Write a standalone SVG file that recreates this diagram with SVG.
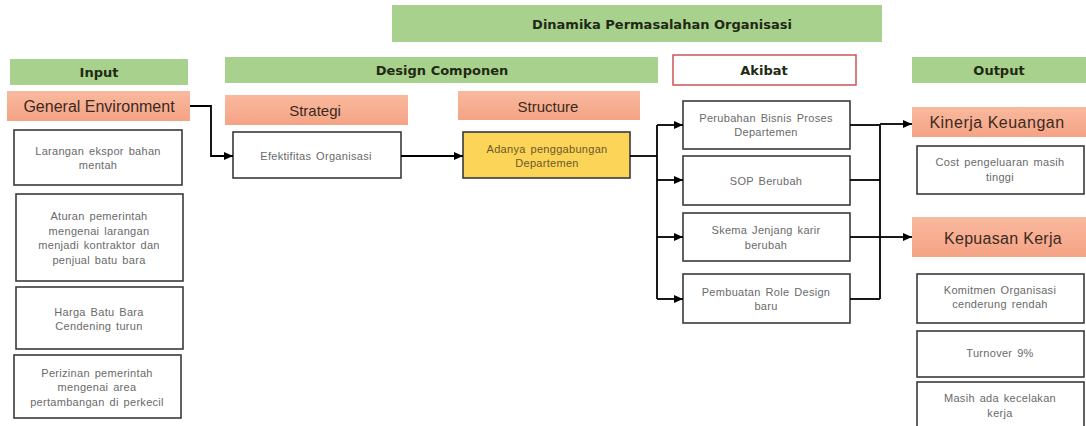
<svg xmlns="http://www.w3.org/2000/svg" width="1086" height="426" viewBox="0 0 1086 426">
<defs>
<marker id="ah" markerUnits="userSpaceOnUse" markerWidth="9" markerHeight="8" refX="9" refY="4" orient="auto">
<path d="M0,0 L9,4 L0,8 Z" fill="#000"/>
</marker>
<linearGradient id="salg" x1="0" y1="0" x2="0" y2="1">
<stop offset="0" stop-color="#F9B99E"/>
<stop offset="1" stop-color="#F5A385"/>
</linearGradient>
<style>
.hdr{fill:#A9D18E}
.sal{fill:url(#salg)}
.box{fill:#fff;stroke:#3a3a3a;stroke-width:1.6}
.ht{font-family:"DejaVu Sans",sans-serif;font-weight:bold;font-size:13px;fill:#1f2a14;text-anchor:middle;dominant-baseline:central}
.st{font-family:"Liberation Sans",Arial,sans-serif;font-size:15px;fill:#3b2a22;text-anchor:middle;dominant-baseline:central}
.bt{font-family:"Liberation Sans",Arial,sans-serif;font-size:11px;fill:#6a6a6a;text-anchor:middle;dominant-baseline:central;letter-spacing:0.3px;word-spacing:1.5px}
.cn{fill:none;stroke:#000;stroke-width:1.8}
</style>
</defs>
<rect width="1086" height="426" fill="#fff"/>

<g id="title"><rect class="hdr" x="392" y="5" width="490" height="37"/><text class="ht" x="662" y="24">Dinamika Permasalahan Organisasi</text></g>

<g id="input-hdr"><rect class="hdr" x="10" y="59" width="178" height="26"/><text class="ht" x="99" y="72">Input</text></g>
<g id="general-env"><rect class="sal" x="7" y="91" width="183" height="30"/><text class="st" x="99" y="106" style="font-size:16px">General Environment</text></g>
<g id="in1"><rect class="box" x="14" y="130" width="168" height="55"/><text class="bt" x="98" y="151">Larangan ekspor bahan</text><text class="bt" x="98" y="165">mentah</text></g>
<g id="in2"><rect class="box" x="16" y="194" width="167" height="87"/><text class="bt" x="99" y="216">Aturan pemerintah</text><text class="bt" x="99" y="231">mengenai larangan</text><text class="bt" x="99" y="245">menjadi kontraktor dan</text><text class="bt" x="99" y="260">penjual batu bara</text></g>
<g id="in3"><rect class="box" x="16" y="287" width="167" height="62"/><text class="bt" x="99" y="312">Harga Batu Bara</text><text class="bt" x="99" y="326">Cendening turun</text></g>
<g id="in4"><rect class="box" x="14" y="355" width="167" height="63"/><text class="bt" x="97" y="373">Perizinan pemerintah</text><text class="bt" x="97" y="387">mengenai area</text><text class="bt" x="97" y="402">pertambangan  di perkecil</text></g>

<g id="design-hdr"><rect class="hdr" x="225" y="57" width="433" height="26"/><text class="ht" x="442" y="70">Design Componen</text></g>
<g id="strategi"><rect class="sal" x="225" y="95" width="183" height="30"/><text class="st" x="315" y="110">Strategi</text></g>
<g id="efektifitas"><rect class="box" x="233" y="132" width="168" height="46"/><text class="bt" x="316" y="156">Efektifitas Organisasi</text></g>
<g id="structure"><rect class="sal" x="458" y="91" width="182" height="29"/><text class="st" x="548" y="106">Structure</text></g>
<g id="penggabungan"><rect x="463" y="132" width="167" height="46" fill="#FCD458" stroke="#3a3a3a" stroke-width="1.6"/><text class="bt" x="547" y="149" style="fill:#6a5a2a">Adanya penggabungan</text><text class="bt" x="547" y="163" style="fill:#6a5a2a">Departemen</text></g>

<g id="akibat-hdr"><rect x="673" y="55" width="183" height="30" fill="#fff" stroke="#C9545A" stroke-width="1.5"/><text class="ht" x="764" y="70">Akibat</text></g>
<g id="ak1"><rect class="box" x="683" y="101" width="167" height="48"/><text class="bt" x="766" y="118">Perubahan Bisnis Proses</text><text class="bt" x="766" y="132">Departemen</text></g>
<g id="ak2"><rect class="box" x="683" y="156" width="167" height="49"/><text class="bt" x="766" y="181">SOP Berubah</text></g>
<g id="ak3"><rect class="box" x="683" y="213" width="167" height="48"/><text class="bt" x="766" y="230">Skema Jenjang karir</text><text class="bt" x="766" y="245">berubah</text></g>
<g id="ak4"><rect class="box" x="683" y="274" width="167" height="49"/><text class="bt" x="766" y="292">Pembuatan Role Design</text><text class="bt" x="766" y="306">baru</text></g>

<g id="output-hdr"><rect class="hdr" x="912" y="57" width="174" height="26"/><text class="ht" x="999" y="70">Output</text></g>
<g id="kinerja"><rect class="sal" x="912" y="107" width="174" height="30"/><text class="st" x="997" y="122" style="font-size:16px;letter-spacing:0.5px">Kinerja Keuangan</text></g>
<g id="out1"><rect class="box" x="917" y="146" width="167" height="48"/><text class="bt" x="1000" y="162">Cost pengeluaran masih</text><text class="bt" x="1000" y="177">tinggi</text></g>
<g id="kepuasan"><rect class="sal" x="912" y="217" width="174" height="40"/><text class="st" x="1003" y="238" style="font-size:16px;letter-spacing:0.3px">Kepuasan Kerja</text></g>
<g id="out2"><rect class="box" x="917" y="274" width="167" height="49"/><text class="bt" x="1000" y="290">Komitmen Organisasi</text><text class="bt" x="1000" y="304">cenderung rendah</text></g>
<g id="out3"><rect class="box" x="917" y="331" width="167" height="46"/><text class="bt" x="1000" y="353">Turnover 9%</text></g>
<g id="out4"><rect class="box" x="917" y="382" width="167" height="50"/><text class="bt" x="1000" y="398">Masih ada kecelakan</text><text class="bt" x="1000" y="413">kerja</text></g>

<g id="connectors">
<path class="cn" d="M190,106 H211 V156 H233" marker-end="url(#ah)"/>
<path class="cn" d="M401,156 H463" marker-end="url(#ah)"/>
<path class="cn" d="M630,156 H657"/>
<path class="cn" d="M657,125 V299"/>
<path class="cn" d="M657,125 H683" marker-end="url(#ah)"/>
<path class="cn" d="M657,180 H683" marker-end="url(#ah)"/>
<path class="cn" d="M657,237 H683" marker-end="url(#ah)"/>
<path class="cn" d="M657,299 H683" marker-end="url(#ah)"/>
<path class="cn" d="M850,125 H880"/>
<path class="cn" d="M850,180 H880"/>
<path class="cn" d="M850,237 H880"/>
<path class="cn" d="M850,299 H880"/>
<path class="cn" d="M880,124 V299"/>
<path class="cn" d="M880,124 H912" marker-end="url(#ah)"/>
<path class="cn" d="M880,237 H912" marker-end="url(#ah)"/>
</g>
</svg>
